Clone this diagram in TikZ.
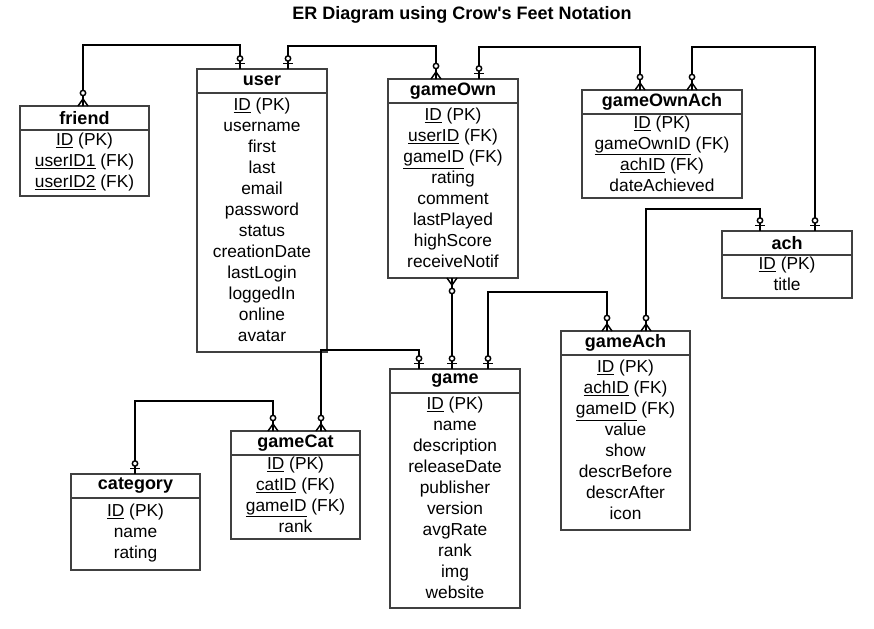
\documentclass[tikz,border=0pt]{standalone}
\usepackage{fontspec}
\setmainfont{Liberation Sans}
\newfontfamily\titlefont{Liberation Sans}
\usetikzlibrary{positioning,calc}
\tikzset{
    head/.style={draw=black!75, line width=0.8pt, minimum height=18pt, inner sep=0pt, outer sep=0pt,
        font=\fontsize{13.5}{16}\selectfont\bfseries},
    attrs/.style={draw=black!75, line width=0.8pt, inner sep=0pt, outer sep=0pt, align=center,
        text depth=4pt, font=\fontsize{13}{15.75}\selectfont},
    rel/.style={line width=1.5pt},
    one/.pic={
        \draw[line width=1.1pt] (-5,-5.5) -- (5,-5.5);
        \draw[line width=1.1pt, fill=white] (0,-10.5) circle (2pt);
    },
    many/.pic={
        \draw[line width=1.1pt] (-5,0) -- (0,-7) -- (5,0) (0,0) -- (0,-7);
        \draw[line width=1.1pt, fill=white] (0,-13) circle (2pt);
    }
}
\begin{document}
\begin{tikzpicture}[x=0.75pt, y=-0.75pt]
    \useasboundingbox (0,0) rectangle (874,628);
    \node[font=\titlefont\fontsize{13.5}{16}\selectfont\bfseries] (title) at (462,15) {ER Diagram using Crow's Feet Notation};

    % tables
    \node[head, minimum width=96.75pt] (friend) at (84.5,118) {friend};
    \node[attrs, minimum width=96.75pt, minimum height=49.5pt, below=0pt of friend] (friendA)
        {\underline{ID} (PK)\\ \underline{userID1} (FK)\\ \underline{userID2} (FK)};

    \node[head, minimum width=97.5pt] (user) at (262,81) {user};
    \node[attrs, minimum width=97.5pt, minimum height=194.25pt, below=0pt of user] (userA)
        {\underline{ID} (PK)\\ username\\ first\\ last\\ email\\ password\\ status\\ creationDate\\ lastLogin\\ loggedIn\\ online\\ avatar};

    \node[head, minimum width=97.5pt] (gameOwn) at (453,91) {gameOwn};
    \node[attrs, minimum width=97.5pt, minimum height=131.25pt, below=0pt of gameOwn] (gameOwnA)
        {\underline{ID} (PK)\\ \underline{userID} (FK)\\ \underline{gameID} (FK)\\ rating\\ comment\\ lastPlayed\\ highScore\\ receiveNotif};

    \node[head, minimum width=120pt] (gameOwnAch) at (662,102) {gameOwnAch};
    \node[attrs, minimum width=120pt, minimum height=63pt, below=0pt of gameOwnAch] (gameOwnAchA)
        {\underline{ID} (PK)\\ \underline{gameOwnID} (FK)\\ \underline{achID} (FK)\\ dateAchieved};

    \node[head, minimum width=97.5pt] (ach) at (787,243) {ach};
    \node[attrs, minimum width=97.5pt, minimum height=32.25pt, below=0pt of ach] (achA)
        {\underline{ID} (PK)\\ title};

    \node[head, minimum width=96.75pt] (gameAch) at (625.5,343) {gameAch};
    \node[attrs, minimum width=96.75pt, minimum height=131.25pt, below=0pt of gameAch] (gameAchA)
        {\underline{ID} (PK)\\ \underline{achID} (FK)\\ \underline{gameID} (FK)\\ value\\ show\\ descrBefore\\ descrAfter\\ icon};

    \node[head, minimum width=97.5pt] (game) at (455,381) {game};
    \node[attrs, minimum width=97.5pt, minimum height=161.25pt, below=0pt of game] (gameA)
        {\underline{ID} (PK)\\ name\\ description\\ releaseDate\\ publisher\\ version\\ avgRate\\ rank\\ img\\ website};

    \node[head, minimum width=96.75pt] (gameCat) at (295.5,443) {gameCat};
    \node[attrs, minimum width=96.75pt, minimum height=63pt, below=0pt of gameCat] (gameCatA)
        {\underline{ID} (PK)\\ \underline{catID} (FK)\\ \underline{gameID} (FK)\\ rank};

    \node[head, minimum width=96.75pt] (category) at (135.5,486) {category};
    \node[attrs, minimum width=96.75pt, minimum height=54pt, below=0pt of category] (categoryA)
        {\underline{ID} (PK)\\ name\\ rating};

    % connector ends
    \coordinate (fr1) at ($(friend.north west)+(63,0)$);
    \coordinate (us1) at ($(user.north west)+(43,0)$);
    \coordinate (us2) at ($(user.north west)+(91,0)$);
    \coordinate (go1) at ($(gameOwn.north west)+(48,0)$);
    \coordinate (go2) at ($(gameOwn.north west)+(91,0)$);
    \coordinate (go3) at ($(gameOwnA.south west)+(64,0)$);
    \coordinate (goa1) at ($(gameOwnAch.north west)+(58,0)$);
    \coordinate (goa2) at ($(gameOwnAch.north west)+(110,0)$);
    \coordinate (ac1) at ($(ach.north west)+(38,0)$);
    \coordinate (ac2) at ($(ach.north west)+(93,0)$);
    \coordinate (ga1) at ($(gameAch.north west)+(46,0)$);
    \coordinate (ga2) at ($(gameAch.north west)+(85,0)$);
    \coordinate (gm1) at ($(game.north west)+(29,0)$);
    \coordinate (gm2) at ($(game.north west)+(62,0)$);
    \coordinate (gm3) at ($(game.north west)+(98,0)$);
    \coordinate (gc1) at ($(gameCat.north west)+(42,0)$);
    \coordinate (gc2) at ($(gameCat.north west)+(90,0)$);
    \coordinate (ca1) at ($(category.north west)+(64,0)$);

    % relations
    \draw[rel] (fr1) -- ++(0,-61) -| (us1);
    \draw[rel] (us2) -- ++(0,-23) -| (go1);
    \draw[rel] (go2) -- ++(0,-32) -| (goa1);
    \draw[rel] (goa2) -- ++(0,-43) -| (ac2);
    \draw[rel] (ac1) -- ++(0,-22) -| (ga2);
    \draw[rel] (go3) -- (gm2);
    \draw[rel] (gm3) -- ++(0,-77) -| (ga1);
    \draw[rel] (gm1) -- ++(0,-19) -| (gc2);
    \draw[rel] (ca1) -- ++(0,-73) -| (gc1);

    \foreach \p in {us1,us2,go2,ac1,ac2,gm1,gm2,gm3,ca1}
    {
        \pic at (\p) {one};
    }
    \foreach \p in {fr1,go1,goa1,goa2,ga1,ga2,gc1,gc2}
    {
        \pic at (\p) {many};
    }
    \pic[rotate=180] at (go3) {many};
\end{tikzpicture}
\end{document}
